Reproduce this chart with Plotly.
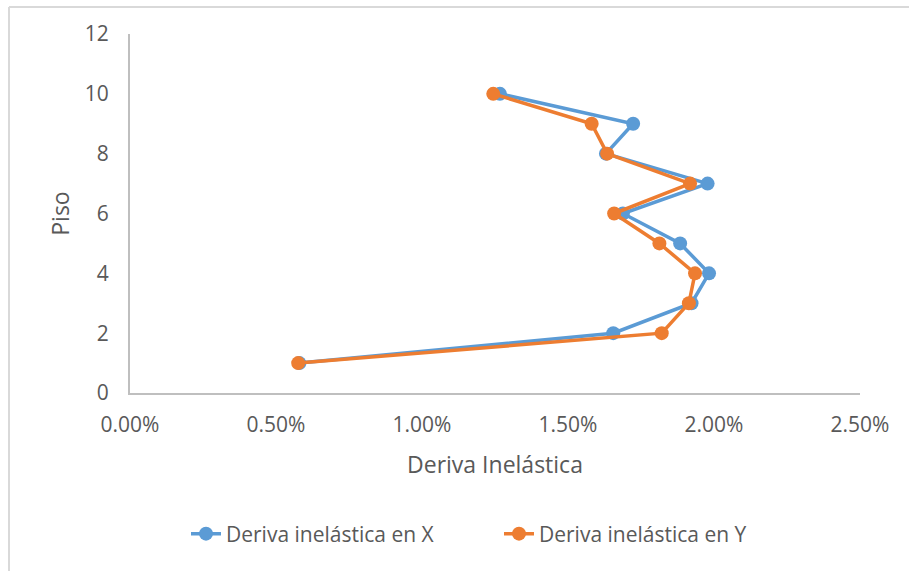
import plotly.graph_objects as go

pisos = [1, 2, 3, 4, 5, 6, 7, 8, 9, 10]
deriva_x = [0.00580, 0.01655, 0.01923, 0.01983, 0.01884, 0.01688, 0.01978, 0.01630, 0.01723, 0.01267]
deriva_y = [0.00576, 0.01821, 0.01914, 0.01935, 0.01813, 0.01658, 0.01918, 0.01634, 0.01581, 0.01244]
x_ticks = [0, 0.005, 0.01, 0.015, 0.02, 0.025]
y_ticks = [0, 2, 4, 6, 8, 10, 12]

FONT = "Open Sans"
GRAY = "#595959"

W, H = 909, 571
L, R, T, B = 130, 49, 34, 178
pw, ph = W - L - R, H - T - B


def px_x(px):
    return (px - L) / pw


def px_y(py):
    return (H - B - py) / ph


fig = go.Figure()
fig.add_trace(go.Scatter(x=deriva_x, y=pisos, mode="lines+markers",
                         name="Deriva inelástica en X",
                         line=dict(color="#5B9BD5", width=3.5),
                         marker=dict(color="#5B9BD5", size=14)))
fig.add_trace(go.Scatter(x=deriva_y, y=pisos, mode="lines+markers",
                         name="Deriva inelástica en Y",
                         line=dict(color="#ED7D31", width=3.5),
                         marker=dict(color="#ED7D31", size=14)))

fig.update_layout(
    width=W, height=H,
    margin=dict(l=L, r=R, t=T, b=B),
    plot_bgcolor="white", paper_bgcolor="white",
    font=dict(family=FONT, color=GRAY, size=21),
    showlegend=True,
    legend=dict(orientation="h", x=px_x(186), xanchor="left", y=px_y(534), yanchor="middle",
                font=dict(size=21, color=GRAY), entrywidth=268, itemwidth=30),
    xaxis=dict(range=[0, 0.025], tickvals=x_ticks, tickformat=".2%",
               showgrid=False, zeroline=False, showline=True,
               linecolor="#BFBFBF", linewidth=2, ticks="",
               ticklabelstandoff=12, tickfont=dict(size=21),
               title=dict(text="Deriva Inelástica", font=dict(size=23, color=GRAY), standoff=20)),
    yaxis=dict(range=[0, 12], tickvals=y_ticks,
               showgrid=False, zeroline=False, showline=True,
               linecolor="#BFBFBF", linewidth=2, ticks="",
               ticklabelstandoff=15, tickfont=dict(size=21),
               title=dict(text="Piso", font=dict(size=23, color=GRAY), standoff=9)),
)

fig.add_shape(type="line", xref="paper", yref="paper", x0=px_x(9), x1=px_x(909), y0=px_y(7), y1=px_y(7),
              line=dict(color="#D9D9D9", width=2))
fig.add_shape(type="line", xref="paper", yref="paper", x0=px_x(9), x1=px_x(9), y0=px_y(7), y1=px_y(571),
              line=dict(color="#D9D9D9", width=2))

fig.write_html("out.html", config={"displayModeBar": False},
               post_script="document.body.style.margin='0px';")
